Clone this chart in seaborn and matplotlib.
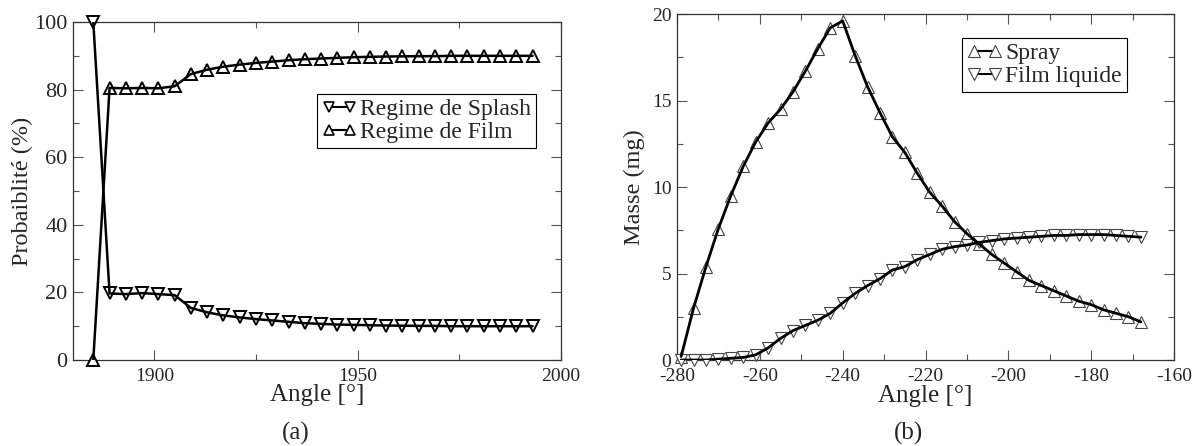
import numpy as np
import pandas as pd
import seaborn as sns
import matplotlib.pyplot as plt
from matplotlib.lines import Line2D
from matplotlib.ticker import MultipleLocator

# (a) probability of each impact regime vs crank angle
angle_a = list(range(1885, 1994, 4))
splash = [100, 19.7, 19.5, 19.8, 19.5, 19.2, 15.4, 14.1, 13.2, 12.6, 12.1, 11.7, 11.3, 10.9,
          10.7, 10.5, 10.4, 10.3, 10.2, 10.15, 10.1, 10.1, 10.0, 10.0, 10.0, 10.0, 10.0, 10.0]
film = [0, 80.5, 80.4, 80.5, 80.4, 81.0, 84.6, 85.9, 86.8, 87.4, 87.9, 88.3, 88.7, 89.0,
        89.2, 89.4, 89.6, 89.7, 89.8, 89.85, 89.9, 89.9, 90.0, 90.0, 90.0, 90.0, 90.0, 90.0]

# (b) spray / liquid film mass vs crank angle
angle_b = list(range(-279, -167, 3))
spray = [0.2, 3.0, 5.4, 7.6, 9.5, 11.2, 12.6, 13.7, 14.5, 15.5, 16.7, 18.0, 19.2, 19.6,
         17.6, 15.8, 14.3, 12.9, 12.0, 10.8, 9.7, 8.9, 8.0, 7.3, 6.7, 6.1, 5.6, 5.1,
         4.6, 4.3, 4.0, 3.7, 3.4, 3.2, 2.9, 2.7, 2.5, 2.2]
film_liq = [0.0, 0.0, 0.0, 0.05, 0.1, 0.15, 0.3, 0.7, 1.25, 1.7, 2.0, 2.3, 2.7, 3.3,
            3.85, 4.3, 4.7, 5.2, 5.4, 5.8, 6.1, 6.4, 6.55, 6.65, 6.8, 6.9, 7.0, 7.05,
            7.1, 7.15, 7.2, 7.2, 7.25, 7.25, 7.25, 7.2, 7.15, 7.1]

sns.set_theme(style="ticks")
plt.rcParams['font.family'] = ['Liberation Serif', 'DejaVu Serif']
plt.rcParams['axes.unicode_minus'] = False

fig = plt.figure(figsize=(11.98, 4.46), dpi=100)
ax1 = fig.add_axes([0.0609, 0.1928, 0.4074, 0.7578])
ax2 = fig.add_axes([0.5651, 0.1928, 0.4149, 0.7758])

df_a = pd.DataFrame({"angle": angle_a, "splash": splash, "film": film})
df_b = pd.DataFrame({"angle": angle_b, "spray": spray, "film": film_liq})


def draw(ax, df, col, marker, lw, ms, mew, mec):
    # markers first, line on top like the original
    sns.lineplot(data=df, x="angle", y=col, ax=ax, linestyle="none", marker=marker,
                 markersize=ms, markerfacecolor="white", markeredgecolor=mec,
                 markeredgewidth=mew, zorder=4, clip_on=False)
    sns.lineplot(data=df, x="angle", y=col, ax=ax, color="black", linewidth=lw, zorder=5)


draw(ax1, df_a, "splash", "v", 1.8, 8, 1.4, "black")
draw(ax1, df_a, "film", "^", 1.8, 8, 1.4, "black")
draw(ax2, df_b, "spray", "^", 2.0, 9, 0.8, "#444444")
draw(ax2, df_b, "film", "v", 2.0, 9, 0.8, "#444444")

for ax in (ax1, ax2):
    ax.tick_params(which="both", direction="in", top=True, right=True, labelsize=14,
                   color="#555555")
    ax.tick_params(which="major", length=7, width=0.8)
    ax.tick_params(which="minor", length=4, width=0.8)
    ax.tick_params(axis="x", pad=6)
    ax.tick_params(axis="y", pad=4)
    for s in ax.spines.values():
        s.set_linewidth(0.9)
        s.set_color("#333333")
    ax.set_xlabel("Angle [°]", fontsize=18)

ax1.tick_params(axis="y", labelsize=16)

ax1.set_xlim(1880, 2000)
ax1.set_ylim(0, 100)
ax1.xaxis.set_major_locator(MultipleLocator(50))
ax1.xaxis.set_minor_locator(MultipleLocator(25))
ax1.yaxis.set_major_locator(MultipleLocator(20))
ax1.yaxis.set_minor_locator(MultipleLocator(10))
ax1.set_ylabel("Probaiblité (%)", fontsize=17.5)
ax1.xaxis.set_label_coords(0.5, -0.072)
ax1.yaxis.set_label_coords(-0.082, 0.5)

ax2.set_xlim(-280, -160)
ax2.set_ylim(0, 20)
ax2.xaxis.set_major_locator(MultipleLocator(20))
ax2.xaxis.set_minor_locator(MultipleLocator(10))
ax2.yaxis.set_major_locator(MultipleLocator(5))
ax2.yaxis.set_minor_locator(MultipleLocator(2.5))
ax2.set_ylabel("Masse (mg)", fontsize=17.5)
ax2.xaxis.set_label_coords(0.5, -0.071)
ax2.yaxis.set_label_coords(-0.064, 0.5)

legend_kw = dict(fontsize=17, frameon=True, fancybox=False, framealpha=1, edgecolor="black",
                 handlelength=1.5, handletextpad=0.15, borderpad=0.2, labelspacing=0.05,
                 numpoints=2, borderaxespad=0)


def handle(marker, ms, mew, mec):
    return Line2D([0], [0], color="black", linewidth=1.5, marker=marker, markersize=ms,
                  markerfacecolor="white", markeredgecolor=mec, markeredgewidth=mew)


leg1 = ax1.legend([handle("v", 7, 1.2, "black"), handle("^", 7, 1.2, "black")],
                  ["Regime de Splash", "Regime de Film"], loc="upper right",
                  bbox_to_anchor=(0.949, 0.787), **legend_kw)
leg1.get_frame().set_linewidth(0.8)
leg1.set_zorder(10)
leg2 = ax2.legend([handle("^", 8, 0.8, "#444444"), handle("v", 8, 0.8, "#444444")],
                  ["Spray", "Film liquide"], loc="upper right",
                  bbox_to_anchor=(0.905, 0.931), **legend_kw)
leg2.get_frame().set_linewidth(0.8)
leg2.set_zorder(10)

fig.text(0.2471, 0.0291, "(a)", ha="center", va="center", fontsize=18)
fig.text(0.7580, 0.0291, "(b)", ha="center", va="center", fontsize=18)

fig.savefig("out.png", dpi=100)
